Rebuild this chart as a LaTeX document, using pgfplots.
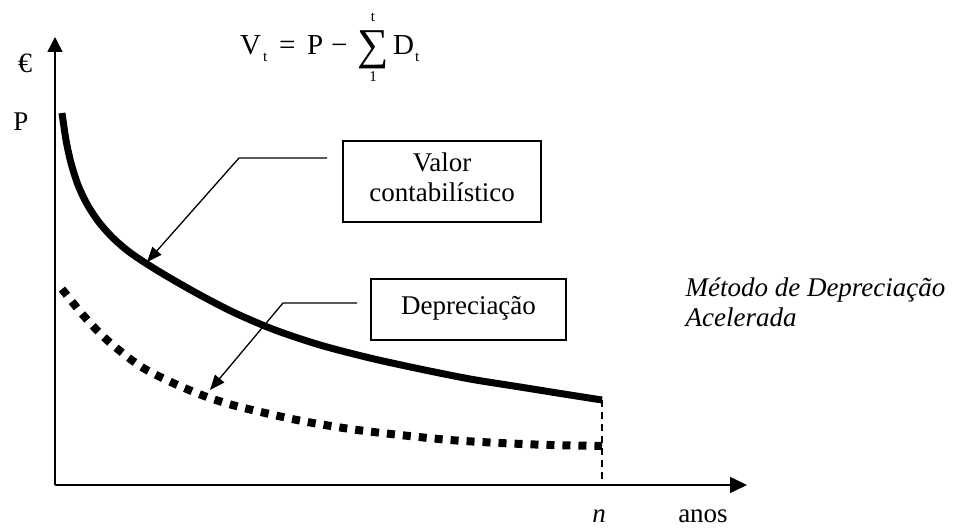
\documentclass[border=0pt]{standalone}
\usepackage{pgfplots}
\pgfplotsset{compat=1.18}
\usepackage{fontspec}
\setmainfont{Liberation Serif}
\usetikzlibrary{arrows.meta}
\begin{document}
\begin{tikzpicture}
\begin{axis}[
  width=954pt, height=529pt, scale only axis,
  xmin=0, xmax=954, ymin=0, ymax=529, y dir=reverse,
  hide axis, clip=false,
]
\path (axis cs:0,0) rectangle (axis cs:954,529);
% axes
\draw[line width=1.5pt, -{Triangle[length=17pt,width=16pt]}] (axis cs:55,485) -- (axis cs:747,485);
\draw[line width=1.5pt, -{Triangle[length=15pt,width=15pt]}] (axis cs:55,485) -- (axis cs:55,37);
% dashed vertical at n
\draw[line width=1.3pt, dash pattern=on 7pt off 5pt] (axis cs:602,400) -- (axis cs:602,480);
% book value curve
\addplot[black, line width=7pt, smooth] coordinates {
(62,113) (66,140) (71,163) (78,185) (87,204) (98,221) (112,237) (128,251)
(147,264) (170,278) (200,295) (235,313) (275,330) (320,345) (370,358)
(420,369) (470,379) (520,387) (570,395) (602,400)};
% depreciation curve
\addplot[black, line width=8pt, dash pattern=on 8pt off 8pt, smooth] coordinates {
(62,289) (83,315) (107,340) (140,366) (173,383) (207,397) (240,407) (297,420)
(350,429) (400,435) (450,440) (500,443) (550,445) (602,446)};
% boxes
\draw[line width=1.3pt] (axis cs:343,141) rectangle (axis cs:541,222);
\node[font=\fontsize{27}{30}\selectfont, anchor=base] at (axis cs:442,172) {Valor};
\node[font=\fontsize{27}{30}\selectfont, anchor=base] at (axis cs:442,202) {contabilístico};
\draw[line width=1.3pt] (axis cs:371,279) rectangle (axis cs:566,340);
\node[font=\fontsize{27}{30}\selectfont, anchor=base] at (axis cs:468.5,315) {Depreciação};
% leaders
\draw[line width=1.3pt, -{Triangle[length=15pt,width=12pt]}] (axis cs:327,158) -- (axis cs:239,158) -- (axis cs:147,262);
\draw[line width=1.3pt, -{Triangle[length=15pt,width=12pt]}] (axis cs:357,303) -- (axis cs:283,303) -- (axis cs:210,390);
% italic note
\node[font=\fontsize{27}{30}\selectfont\itshape, anchor=base west] at (axis cs:682,297) {Método de Depreciação};
\node[font=\fontsize{27}{30}\selectfont\itshape, anchor=base west] at (axis cs:682,327) {Acelerada};
% axis labels
\node[font=\fontsize{28}{30}\selectfont] at (axis cs:25,63) {€};
\node[font=\fontsize{27}{30}\selectfont] at (axis cs:21,122) {P};
\node[font=\fontsize{27}{28}\selectfont\itshape, anchor=base, inner sep=0pt] at (axis cs:599,522) {n};
\node[font=\fontsize{27}{28}\selectfont, anchor=base, inner sep=0pt] at (axis cs:703,522) {anos};
% formula
\node[font=\fontsize{29}{30}\selectfont, anchor=base west, inner sep=0pt] at (axis cs:240,55) {V};
\node[font=\fontsize{15}{16}\selectfont, anchor=base west, inner sep=0pt] at (axis cs:263,62) {t};
\node[font=\fontsize{29}{30}\selectfont, anchor=base west, inner sep=0pt] at (axis cs:279,55) {=};
\node[font=\fontsize{29}{30}\selectfont, anchor=base west, inner sep=0pt] at (axis cs:307,55) {P};
\node[font=\fontsize{29}{30}\selectfont, anchor=base west, inner sep=0pt] at (axis cs:331,55) {−};
\node[font=\fontsize{44}{44}\selectfont, anchor=center, inner sep=0pt] at (axis cs:373,60) {\smash{∑}};
\node[font=\fontsize{15}{16}\selectfont, anchor=base, inner sep=0pt] at (axis cs:373,22) {t};
\node[font=\fontsize{15}{16}\selectfont, anchor=base, inner sep=0pt] at (axis cs:373,82) {1};
\node[font=\fontsize{29}{30}\selectfont, anchor=base west, inner sep=0pt] at (axis cs:393,55) {D};
\node[font=\fontsize{15}{16}\selectfont, anchor=base west, inner sep=0pt] at (axis cs:415,62) {t};
\end{axis}
\end{tikzpicture}
\end{document}
